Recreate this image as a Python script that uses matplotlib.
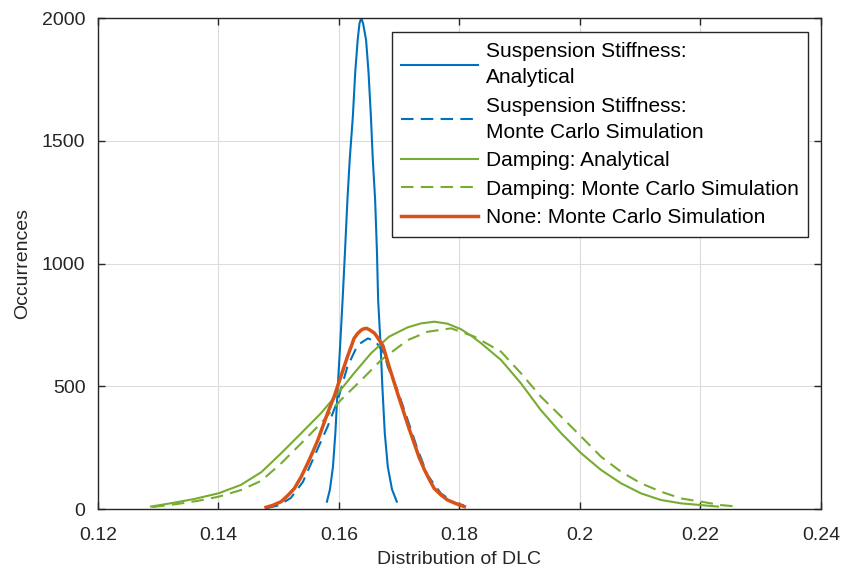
import numpy as np
import matplotlib.pyplot as plt

plt.rcParams['font.family'] = ['Liberation Sans', 'DejaVu Sans']

# values
stiff_an_x = [0.1580, 0.1585, 0.1590, 0.1594, 0.1598, 0.1602, 0.1606, 0.1610,
              0.1614, 0.1618, 0.1623, 0.1627, 0.1631, 0.1634, 0.1637, 0.1640,
              0.1645, 0.1649, 0.1653, 0.1656, 0.1660, 0.1663, 0.1665, 0.1669,
              0.1672, 0.1676, 0.1681, 0.1688, 0.1696]
stiff_an_y = [30, 80, 172, 310, 498, 670, 851, 1050,
              1259, 1430, 1598, 1780, 1910, 1978, 2000, 1978,
              1910, 1780, 1598, 1430, 1259, 1050, 851, 670,
              498, 310, 172, 80, 30]

stiff_mc_x = [0.1479, 0.1500, 0.1520, 0.1540, 0.1560, 0.1581, 0.1598, 0.1614,
              0.1631, 0.1648, 0.1661, 0.1675, 0.1681, 0.1697, 0.1714, 0.1731,
              0.1747, 0.1769, 0.1791, 0.1819]
stiff_mc_y = [3, 15, 45, 110, 220, 335, 444, 580,
              668, 695, 682, 634, 580, 485, 363, 240,
              138, 64, 26, 7]

damp_an_x = [0.1288, 0.1327, 0.1360, 0.1400, 0.1437, 0.1471, 0.1504, 0.1537,
             0.1570, 0.1598, 0.1625, 0.1653, 0.1683, 0.1714, 0.1736, 0.1758,
             0.1780, 0.1802, 0.1820, 0.1836, 0.1869, 0.1902, 0.1935, 0.1969,
             0.2002, 0.2035, 0.2068, 0.2101, 0.2134, 0.2168, 0.2201, 0.2229]
damp_an_y = [10, 26, 41, 64, 98, 150, 227, 308,
             390, 471, 553, 634, 702, 740, 756, 763,
             755, 733, 705, 675, 607, 512, 403, 308,
             227, 159, 105, 64, 37, 23, 16, 10]

damp_mc_x = [0.1290, 0.1330, 0.1365, 0.1400, 0.1437, 0.1471, 0.1504, 0.1537,
             0.1570, 0.1603, 0.1637, 0.1670, 0.1714, 0.1747, 0.1786, 0.1825,
             0.1869, 0.1902, 0.1935, 0.1969, 0.2002, 0.2035, 0.2068, 0.2101,
             0.2134, 0.2168, 0.2201, 0.2234, 0.2262]
damp_mc_y = [8, 20, 33, 50, 77, 115, 186, 267,
             349, 444, 525, 607, 688, 722, 736, 702,
             641, 553, 458, 376, 295, 213, 152, 105,
             71, 43, 30, 16, 10]

none_mc_x = [0.1479, 0.1490, 0.1504, 0.1515, 0.1526, 0.1537, 0.1548, 0.1557,
             0.1565, 0.1581, 0.1592, 0.1603, 0.1614, 0.1620, 0.1625, 0.1631,
             0.1637, 0.1641, 0.1646, 0.1652, 0.1659, 0.1665, 0.1673, 0.1682,
             0.1692, 0.1700, 0.1708, 0.1716, 0.1725, 0.1733, 0.1742, 0.1750,
             0.1758, 0.1769, 0.1780, 0.1794, 0.1808]
none_mc_y = [7, 15, 30, 55, 84, 130, 186, 235,
             281, 390, 458, 539, 620, 660, 695, 715,
             729, 734, 736, 728, 716, 695, 665, 590,
             512, 450, 390, 330, 267, 210, 159, 120,
             84, 58, 37, 22, 10]

blue = '#0072BD'
green = '#77AC30'
orange = '#D95319'

fig = plt.figure(figsize=(8.41, 5.74), dpi=100)
ax = fig.add_axes([0.1165, 0.1132, 0.8597, 0.8554])

ax.plot(stiff_an_x, stiff_an_y, color=blue, lw=1.5,
        label='Suspension Stiffness:\nAnalytical')
ax.plot(stiff_mc_x, stiff_mc_y, color=blue, lw=1.5, dashes=(6, 3.5),
        label='Suspension Stiffness:\nMonte Carlo Simulation')
ax.plot(damp_an_x, damp_an_y, color=green, lw=1.5, label='Damping: Analytical')
ax.plot(damp_mc_x, damp_mc_y, color=green, lw=1.5, dashes=(6, 3.5),
        label='Damping: Monte Carlo Simulation')
ax.plot(none_mc_x, none_mc_y, color=orange, lw=2.5,
        label='None: Monte Carlo Simulation')

ax.set_xlim(0.12, 0.24)
ax.set_ylim(0, 2000)
ax.set_xticks([0.12, 0.14, 0.16, 0.18, 0.2, 0.22, 0.24])
ax.set_xticklabels(['0.12', '0.14', '0.16', '0.18', '0.2', '0.22', '0.24'])
ax.set_yticks([0, 500, 1000, 1500, 2000])

ax.grid(True, color='#dcdcdc', lw=0.8)
ax.set_axisbelow(True)
ax.tick_params(direction='in', top=True, right=True, length=5,
               labelsize=14, colors='#262626', width=1)
ax.tick_params(axis='x', pad=13)
ax.tick_params(axis='y', pad=9)
for s in ax.spines.values():
    s.set_color('#262626')
    s.set_linewidth(1)

ax.set_xlabel('Distribution of DLC', fontsize=14, color='#262626', labelpad=5)
ax.set_ylabel('Occurrences', fontsize=14, color='#262626', labelpad=8)

leg = ax.legend(loc='upper right', bbox_to_anchor=(0.982, 0.971),
                borderaxespad=0, fontsize=15, fancybox=False,
                edgecolor='#262626', framealpha=1, handlelength=3.7,
                handletextpad=0.35, labelspacing=0.45, borderpad=0.45)
leg.get_frame().set_linewidth(1)
for t in leg.get_texts():
    t.set_linespacing(1.5)

fig.savefig('out.png', dpi=100)
